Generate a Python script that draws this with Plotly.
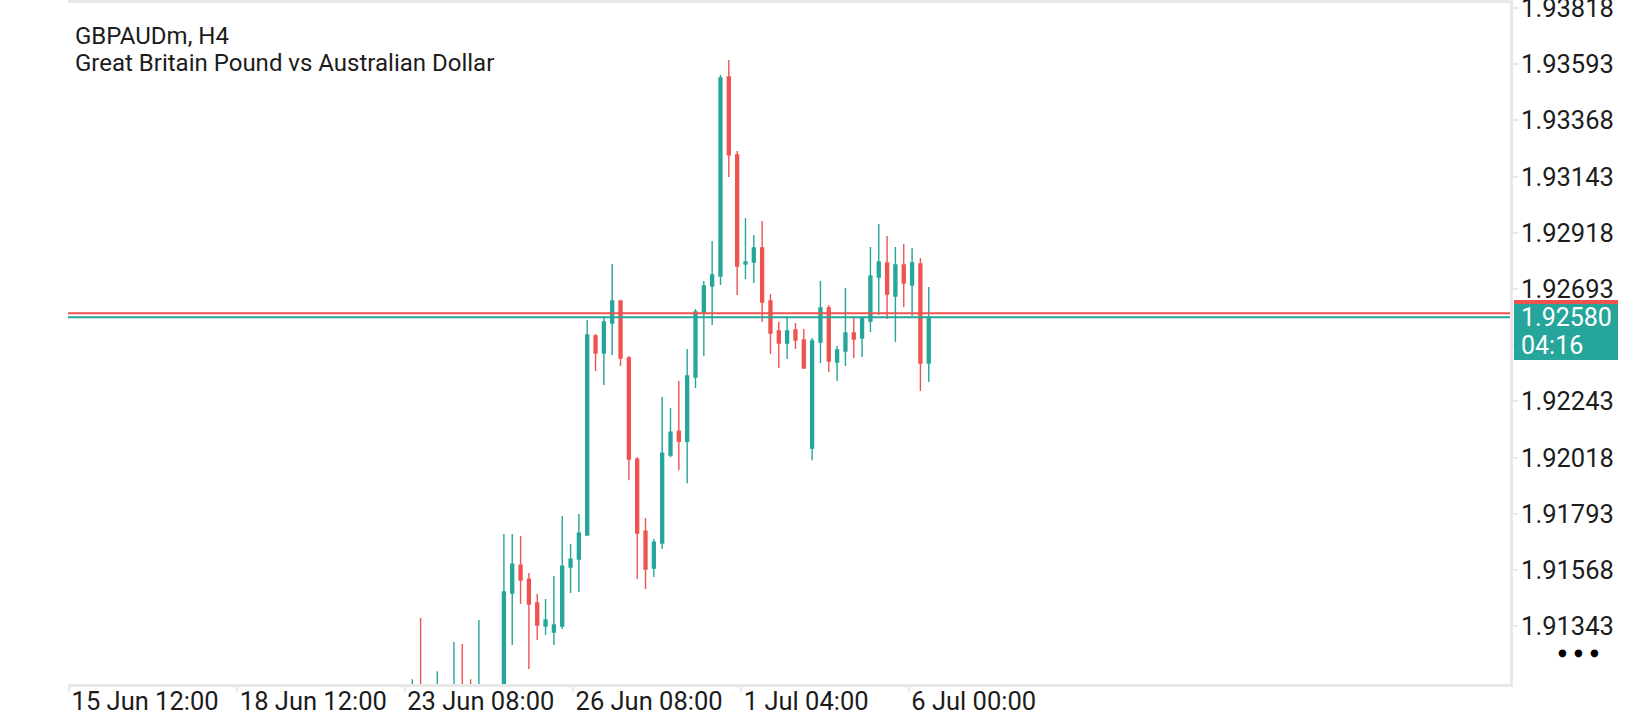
import plotly.graph_objects as go

# --- Data (GBPAUDm H4) ---
symbol = "GBPAUDm, H4"
description = "Great Britain Pound vs Australian Dollar"

bar_open = [
    1.91050, 1.91085, 1.91047, 1.91040, 1.91085, 1.91050, 1.91100, 1.91060, 1.91020, 1.91080,
    1.91050, 1.91090, 1.91476, 1.91588, 1.91532, 1.91436, 1.91344, 1.91320, 1.91344, 1.91580,
    1.91612, 1.91708, 1.92505, 1.92437, 1.92557, 1.92645, 1.92417, 1.92012, 1.91724, 1.91576,
    1.91676, 1.92028, 1.92124, 1.92084, 1.92341, 1.92601, 1.92705, 1.92745, 1.93542, 1.93230,
    1.92793, 1.92801, 1.92857, 1.92645, 1.92525, 1.92477, 1.92529, 1.92489, 1.92056, 1.92481,
    1.92617, 1.92401, 1.92445, 1.92517, 1.92497, 1.92565, 1.92741, 1.92797, 1.92665, 1.92789,
    1.92709, 1.92793, 1.92397,
]
bar_high = [
    1.91131, 1.91376, 1.91095, 1.91163, 1.91100, 1.91280, 1.91272, 1.91131, 1.91368, 1.91105,
    1.91105, 1.91712, 1.91712, 1.91704, 1.91556, 1.91472, 1.91452, 1.91544, 1.91784, 1.91672,
    1.91792, 1.92569, 1.92513, 1.92585, 1.92793, 1.92645, 1.92425, 1.92020, 1.91776, 1.91692,
    1.92261, 1.92217, 1.92325, 1.92453, 1.92613, 1.92725, 1.92885, 1.93550, 1.93610, 1.93246,
    1.92977, 1.92909, 1.92965, 1.92673, 1.92561, 1.92585, 1.92557, 1.92533, 1.92497, 1.92725,
    1.92629, 1.92465, 1.92697, 1.92577, 1.92580, 1.92861, 1.92953, 1.92905, 1.92861, 1.92873,
    1.92857, 1.92817, 1.92701,
]
bar_low = [
    1.91020, 1.91030, 1.91010, 1.91010, 1.91030, 1.91020, 1.91030, 1.91000, 1.90990, 1.91000,
    1.91020, 1.91060, 1.91268, 1.91432, 1.91172, 1.91288, 1.91308, 1.91268, 1.91332, 1.91476,
    1.91480, 1.91705, 1.92365, 1.92309, 1.92429, 1.92385, 1.91928, 1.91532, 1.91492, 1.91540,
    1.91652, 1.92020, 1.91968, 1.91916, 1.92297, 1.92425, 1.92549, 1.92709, 1.93141, 1.92669,
    1.92733, 1.92717, 1.92561, 1.92433, 1.92377, 1.92413, 1.92453, 1.92375, 1.92008, 1.92397,
    1.92361, 1.92325, 1.92385, 1.92417, 1.92421, 1.92521, 1.92589, 1.92573, 1.92481, 1.92621,
    1.92585, 1.92285, 1.92321,
]
bar_close = [
    1.91095, 1.91047, 1.91060, 1.91090, 1.91060, 1.91100, 1.91060, 1.91030, 1.91080, 1.91050,
    1.91090, 1.91480, 1.91592, 1.91528, 1.91432, 1.91348, 1.91368, 1.91348, 1.91584, 1.91612,
    1.91716, 1.92509, 1.92437, 1.92561, 1.92645, 1.92417, 1.92012, 1.91716, 1.91572, 1.91680,
    1.92036, 1.92120, 1.92084, 1.92345, 1.92601, 1.92705, 1.92749, 1.93538, 1.93230, 1.92785,
    1.92801, 1.92857, 1.92641, 1.92517, 1.92477, 1.92525, 1.92489, 1.92377, 1.92485, 1.92617,
    1.92405, 1.92449, 1.92517, 1.92493, 1.92577, 1.92745, 1.92801, 1.92673, 1.92789, 1.92717,
    1.92797, 1.92397, 1.92580,
]

bid_price = 1.92580
ask_price = 1.92596
bar_timer = "04:16"

# time axis labels and where they sit (in bar units)
time_labels = ["15 Jun 12:00", "18 Jun 12:00", "23 Jun 08:00", "26 Jun 08:00", "1 Jul 04:00", "6 Jul 00:00"]
time_label_pos = [-41.2, -21.0, -0.9, 19.3, 39.5, 59.6]

price_ticks = [1.91343, 1.91568, 1.91793, 1.92018, 1.92243, 1.92468, 1.92693,
               1.92918, 1.93143, 1.93368, 1.93593, 1.93818]

# --- Style ---
UP = "#26a69a"
DOWN = "#ef5350"
FRAME = "#e8e8e8"
TXT = "#1c1c1c"
FONT = "Roboto"

bar_index = list(range(len(bar_open)))

fig = go.Figure()

fig.add_trace(
    go.Candlestick(
        x=bar_index,
        open=bar_open,
        high=bar_high,
        low=bar_low,
        close=bar_close,
        increasing=dict(line=dict(color=UP, width=1.4), fillcolor=UP),
        decreasing=dict(line=dict(color=DOWN, width=1.4), fillcolor=DOWN),
        hoverinfo="skip",
        showlegend=False,
    )
)

# bid / ask lines
fig.add_hline(y=ask_price, line=dict(color=DOWN, width=2))
fig.add_hline(y=bid_price, line=dict(color=UP, width=2))

# --- Annotations: header, price tag, menu dots ---
annotations = []
for text, yc in [(symbol, 35.5), (description, 62.5)]:
    annotations.append(dict(
        text=text, xref="paper", yref="paper",
        x=0.0037, y=1 - (yc - 3) / 681,
        xanchor="left", yanchor="middle", showarrow=False,
        font=dict(family=FONT, size=24, color=TXT),
    ))

# ask tag (mostly hidden) and bid tag
annotations.append(dict(
    text=" ", xref="paper", yref="y", x=1, y=ask_price, xanchor="left", yanchor="top",
    xshift=4, yshift=13, width=104, height=40, bgcolor=DOWN, borderpad=0, borderwidth=0,
    showarrow=False,
))
annotations.append(dict(
    text=" ", xref="paper", yref="y", x=1, y=bid_price, xanchor="left", yanchor="top",
    xshift=4, yshift=13, width=104, height=56, bgcolor=UP, borderpad=0, borderwidth=0,
    showarrow=False,
))
annotations.append(dict(
    text=f"{bid_price:.5f}", xref="paper", yref="y", x=1, y=bid_price, xanchor="left",
    yanchor="middle", xshift=9, yshift=0, showarrow=False,
    font=dict(family=FONT, size=25, color="white"),
))
annotations.append(dict(
    text=bar_timer, xref="paper", yref="y", x=1, y=bid_price, xanchor="left",
    yanchor="middle", xshift=9, yshift=-28, showarrow=False,
    font=dict(family=FONT, size=25, color="white"),
))
for i in range(3):
    annotations.append(dict(
        text="●", xref="paper", yref="paper", x=1, y=1 - (652 - 3) / 681,
        xanchor="center", yanchor="middle", xshift=52 + 16 * i, showarrow=False,
        font=dict(family="DejaVu Sans", size=10, color="black"),
    ))

fig.update_layout(
    width=1640,
    height=720,
    margin=dict(l=68, r=130, t=3, b=36),
    paper_bgcolor="white",
    plot_bgcolor="white",
    font=dict(family=FONT, size=25, color=TXT),
    boxgap=0.5,
    hovermode=False,
    showlegend=False,
    annotations=annotations,
    xaxis=dict(
        range=[-41.33, 131.78],
        rangeslider=dict(visible=False),
        automargin=False,
        showgrid=False,
        zeroline=False,
        showline=True,
        mirror=True,
        linecolor=FRAME,
        linewidth=3,
        tickmode="array",
        tickvals=time_label_pos,
        ticktext=time_labels,
        ticks="outside",
        ticklen=5,
        tickwidth=2,
        tickcolor=FRAME,
        ticklabelposition="outside right",
        ticklabeloverflow="allow",
        ticklabelstandoff=-8,
        tickfont=dict(family=FONT, size=25.5, color=TXT),
    ),
    yaxis=dict(
        range=[1.91112, 1.93838],
        side="right",
        automargin=False,
        showgrid=False,
        zeroline=False,
        showline=True,
        linecolor=FRAME,
        linewidth=3,
        tickmode="array",
        tickvals=price_ticks,
        tickformat=".5f",
        ticks="outside",
        ticklen=5,
        tickwidth=2,
        tickcolor=FRAME,
        ticklabeloverflow="allow",
        ticklabelstandoff=-2,
        tickfont=dict(family=FONT, size=25.5, color=TXT),
    ),
)

fig.write_html(
    "out.html",
    config=dict(displayModeBar=False),
    post_script="document.body.style.margin='0';document.body.style.overflow='hidden';",
)
